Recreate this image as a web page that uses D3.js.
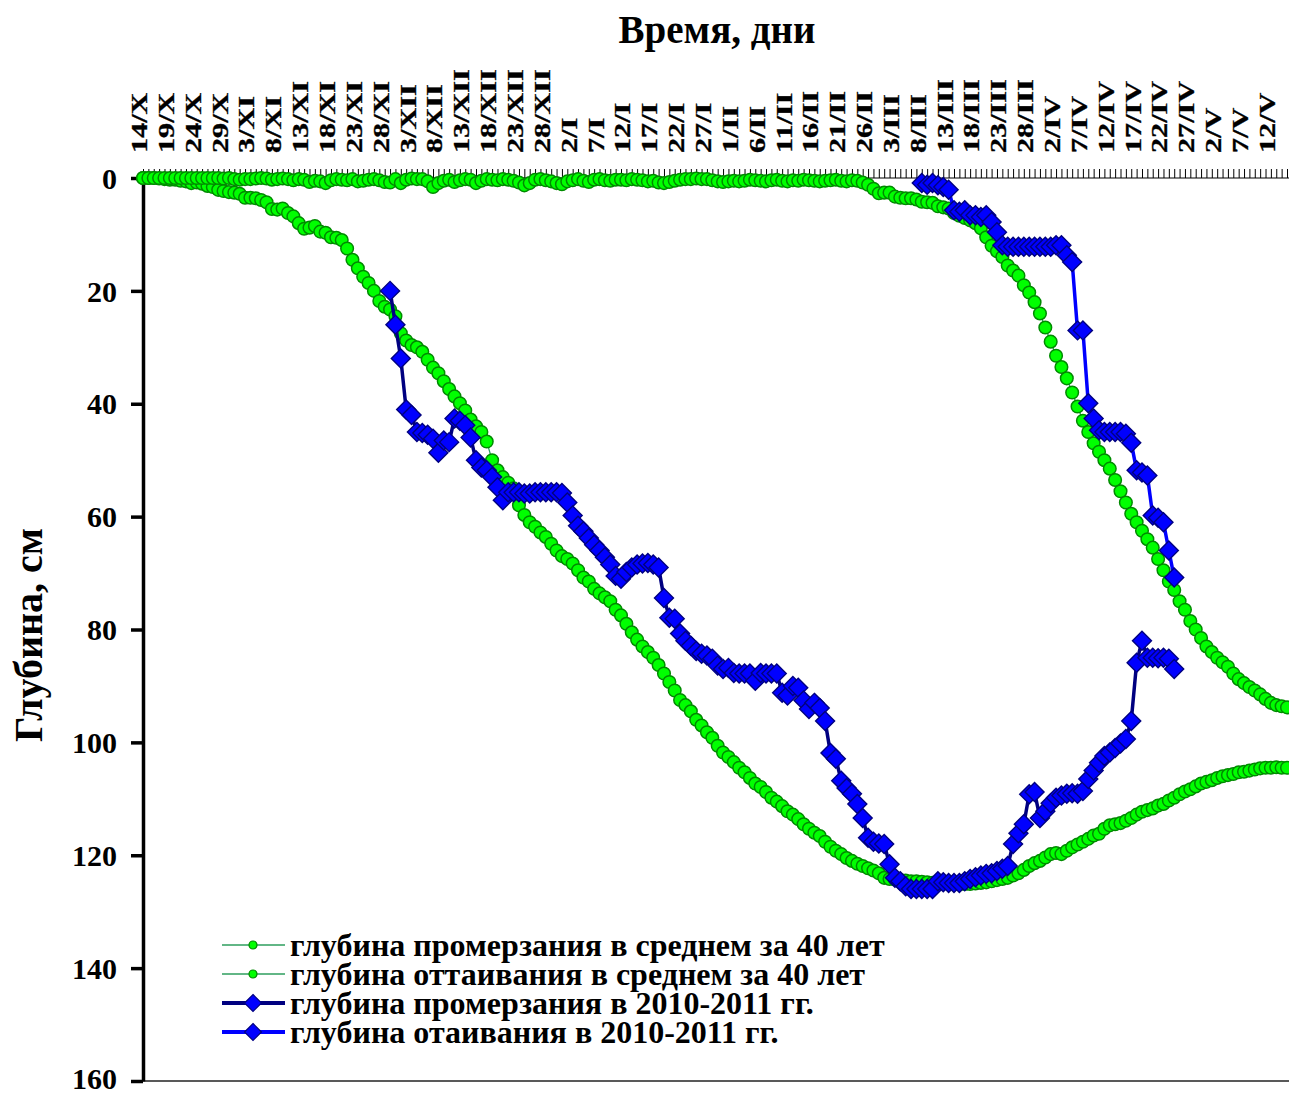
<!DOCTYPE html>
<html><head><meta charset="utf-8">
<script src="https://cdn.jsdelivr.net/npm/d3@7"></script>
<style>
body{margin:0;background:#fff;}
svg text{font-family:"Liberation Serif","Times New Roman",serif;font-weight:bold;fill:#000;}
</style>
</head><body>
<svg id="chart" width="1289" height="1095"></svg>
<script>
// ---------- DATA ----------
const tickLabels = ["14/X","19/X","24/X","29/X","3/XI","8/XI","13/XI","18/XI","23/XI","28/XI",
  "3/XII","8/XII","13/XII","18/XII","23/XII","28/XII","2/I","7/I","12/I","17/I","22/I","27/I",
  "1/II","6/II","11/II","16/II","21/II","26/II","3/III","8/III","13/III","18/III","23/III","28/III",
  "2/IV","7/IV","12/IV","17/IV","22/IV","27/IV","2/V","7/V","12/V"];
const labelEvery = 5;
const dayCount = 214; // 14/X .. 15/V, one category per day
const yTicks = [0,20,40,60,80,100,120,140,160];

// глубина промерзания в среднем за 40 лет (day 0..213)
const freezeAvg = [
  0,0,0,0.1,0.2,0.3,0.3,0.5,0.6,0.9,
  0.8,1.0,1.4,1.6,2.1,2.3,2.5,2.6,2.8,3.5,
  3.5,3.6,3.9,4.3,5.5,5.6,5.4,6.2,6.8,8.0,
  9.0,8.8,8.5,9.5,9.7,10.5,10.6,11.0,12.5,14.5,
  16.0,17.5,18.6,20.0,21.8,22.8,23.3,24.5,27.5,28.8,
  29.6,30.0,30.8,32.2,33.6,34.6,36.0,37.4,38.7,39.9,
  41.2,42.8,44.0,45.0,46.7,50.0,51.8,53.0,54.0,55.0,
  58.0,59.7,61.0,61.8,62.8,63.6,64.8,66.0,67.0,67.5,
  68.3,69.5,70.8,71.5,72.8,73.6,74.3,75.0,76.5,77.5,
  79.0,80.5,81.8,83.0,84.0,85.0,86.3,87.8,89.3,90.8,
  92.5,93.4,94.5,96.0,97.0,98.2,99.2,100.6,101.8,102.6,
  103.5,104.5,105.3,106.3,107.3,107.9,108.8,109.8,110.5,111.3,
  112.2,112.8,113.6,114.5,115.3,116.0,116.6,117.6,118.5,119.2,
  119.8,120.5,121.0,121.5,121.9,122.3,122.7,123.2,124.0,124.2,
  124.3,124.4,124.5,124.6,124.6,124.7,124.8,124.9,124.9,125.0,
  125.0,125.0,125.1,125.1,125.1,125.0,124.9,124.8,124.6,124.4,
  124.2,124.0,123.6,123.2,122.6,121.9,121.4,121.0,120.4,119.8,
  119.6,119.8,119.2,118.6,118.1,117.6,117.1,116.5,116.2,115.3,
  114.7,114.5,114.3,113.9,113.4,112.8,112.3,112.0,111.7,111.2,
  110.9,110.3,109.8,109.2,108.7,108.3,107.8,107.3,107.0,106.7,
  106.3,106.0,105.8,105.6,105.3,105.2,105.0,104.8,104.6,104.5,
  104.5,104.4,104.5,104.5
];

// глубина оттаивания в среднем за 40 лет (day 0..213)
const thawAvg = [
  0,0,0,0,0,0,0,0,0,0,
  0,0,0,0,0,0.1,0,0.2,0.3,0.2,
  0.2,0.1,0,0.1,0.3,0.2,0.1,0.2,0.4,0.2,
  0.3,0.7,0.5,0.6,0.9,0.4,0.2,0.3,0.4,0.2,
  0.6,0.5,0.3,0.2,0.4,0.7,0.8,0.2,0.9,0.3,
  0.1,0.2,0.2,0.6,1.6,0.9,0.5,0.3,0.7,0.4,
  0.2,0.3,0.9,0.5,0.2,0.3,0.4,0.2,0.3,0.5,
  0.8,1.3,0.9,0.3,0.2,0.4,0.6,0.9,1.1,0.6,
  0.4,0.2,0.5,0.7,0.3,0.2,0.4,0.5,0.3,0.3,
  0.4,0.2,0.3,0.4,0.6,0.5,0.8,0.9,0.7,0.5,
  0.3,0.2,0.2,0.1,0.2,0.2,0.4,0.6,0.7,0.6,
  0.5,0.6,0.5,0.3,0.4,0.5,0.6,0.4,0.3,0.5,
  0.6,0.4,0.5,0.3,0.4,0.5,0.6,0.5,0.4,0.3,
  0.5,0.6,0.4,0.5,0.8,1.2,1.9,2.7,2.6,2.6,
  3.3,3.5,3.6,3.6,3.8,4.2,4.3,4.4,5.0,5.2,
  5.4,6.2,6.7,7.1,7.5,8.0,8.9,10.5,12.0,13.0,
  14.0,15.5,16.4,17.3,19.0,20.3,22.0,24.0,26.5,29.0,
  31.5,33.5,35.5,38.0,40.5,43.0,45.0,47.0,48.5,50.0,
  51.5,53.5,55.5,57.5,59.5,61.0,62.5,64.0,65.5,67.5,
  69.5,71.5,73.0,75.0,76.5,78.5,80.0,81.5,83.0,84.0,
  85.0,85.8,86.6,87.8,88.8,89.5,90.2,90.8,91.5,92.3,
  93.0,93.4,93.6,93.8
];

// глубина промерзания в 2010-2011 гг. (from day 46 = 30/XI)
const freeze2010Start = 46;
const freeze2010 = [
  20.0,26.0,32.0,41.0,42.0,45.0,45.2,45.5,46.2,48.7,
  46.5,46.8,42.6,43.0,43.8,46.0,50.0,51.3,51.8,53.0,
  54.8,57.1,55.7,55.7,55.7,55.9,55.9,55.7,55.7,55.7,
  55.7,55.7,55.8,57.5,59.8,61.6,62.6,63.8,65.0,66.0,
  67.2,68.5,70.5,71.0,69.8,69.0,68.5,68.3,68.2,68.5,
  69.0,74.4,77.9,78.1,80.7,82.0,82.9,83.8,84.3,84.6,
  85.2,86.4,87.0,86.8,87.7,87.8,87.8,87.8,89.1,87.7,
  87.8,87.8,87.8,91.2,91.7,90.0,90.3,92.6,94.1,93.0,
  93.9,96.2,101.9,102.9,106.8,108.1,109.1,110.9,113.4,116.9,
  117.6,117.9,118.0,121.6,124.0,124.6,125.5,126.0,126.0,126.0,
  126.0,126.0,124.6,124.8,124.9,124.9,124.9,124.6,124.2,123.9,
  123.6,123.3,123.2,122.8,122.4,121.9,118.0,116.1,114.5,109.2,
  108.8,113.4,112.2,110.8,109.8,109.4,109.1,109.0,109.1,108.6,
  106.5,105.0,103.6,102.4,101.8,101.0,100.2,99.4,96.2,85.9,
  82.0,85.0,85.0,85.1,85.0,85.2,87.0
];

// глубина отаивания в 2010-2011 гг. (from day 145 = 8/III)
const thaw2010Start = 145;
const thaw2010 = [
  0.9,1.2,0.9,1.3,1.6,2.1,5.7,6.0,5.7,6.6,
  6.6,6.9,6.6,7.8,9.6,11.9,12.2,12.2,12.2,12.2,
  12.2,12.2,12.2,12.2,12.2,11.9,11.9,13.7,14.9,27.0,
  27.0,39.9,42.6,44.7,45.0,45.0,45.0,45.0,45.3,46.9,
  51.8,52.2,52.7,59.8,60.2,61.0,66.0,70.8
];

const seriesNames = [
  "глубина промерзания в среднем за 40 лет",
  "глубина оттаивания в среднем за 40 лет",
  "глубина промерзания в 2010-2011 гг.",
  "глубина отаивания в 2010-2011 гг."
];

// ---------- CHART ----------
const svg = d3.select("#chart");
const W = 1289, H = 1095;
const plot = {left:143, top:178, right:1289, bottom:1081};

const x = d3.scalePoint().domain(d3.range(dayCount)).range([plot.left, 1287]);
const y = d3.scaleLinear().domain([0,160]).range([plot.top, plot.bottom]);

const toPts = (arr, start) => arr.map((v,i)=>({d:start+i, v}));
const series = [
  {name:seriesNames[0], pts:toPts(freezeAvg,0), line:"#2E9E5E", lw:1.3, marker:"circle"},
  {name:seriesNames[1], pts:toPts(thawAvg,0), line:"#2E9E5E", lw:1.3, marker:"circle"},
  {name:seriesNames[2], pts:toPts(freeze2010,freeze2010Start), line:"#000080", lw:3.5, marker:"diamond"},
  {name:seriesNames[3], pts:toPts(thaw2010,thaw2010Start), line:"#0000FF", lw:3.5, marker:"diamond"}
];

// bottom frame line
svg.append("line").attr("x1",plot.left).attr("x2",W).attr("y1",plot.bottom).attr("y2",plot.bottom)
  .attr("stroke","#222").attr("stroke-width",1.5);

// top category axis (ticks every day)
const xAxis = d3.axisTop(x).tickValues(d3.range(dayCount)).tickSize(9).tickSizeOuter(0).tickFormat("");
const gx = svg.append("g").attr("transform",`translate(0,${plot.top})`).call(xAxis);
gx.select(".domain").attr("d",`M${plot.left},0H${W}`).attr("stroke","#000").attr("stroke-width",1.2);
gx.selectAll(".tick line").attr("stroke","#000").attr("stroke-width",1);

// rotated tick labels every 5 days
svg.append("g").selectAll("text").data(tickLabels).join("text")
  .attr("transform",(t,i)=>`translate(${x(i*labelEvery)},153) rotate(-90) scale(1.34,1)`)
  .attr("x",0).attr("y",4)
  .attr("text-anchor","start")
  .style("font-size","22.5px")
  .style("stroke","#000").style("stroke-width","0.3px")
  .text(t=>t);

// left value axis
const yAxis = d3.axisLeft(y).tickValues(yTicks).tickSize(12).tickSizeOuter(0).tickFormat(d3.format("d"));
const gy = svg.append("g").attr("transform",`translate(${plot.left},0)`).call(yAxis);
gy.select(".domain").attr("stroke","#000").attr("stroke-width",3.5);
gy.selectAll(".tick line").attr("stroke","#000").attr("stroke-width",3.5);
gy.selectAll(".tick text").attr("x",-26).attr("dy",d=>d===160?"0.24em":"0.34em")
  .style("font-size","30px").style("font-family","'Liberation Serif','Times New Roman',serif")
  .style("font-weight","bold").attr("fill","#000");

// titles
svg.append("text").attr("x",717).attr("y",43).attr("text-anchor","middle")
  .style("font-size","39px").text("Время, дни");
svg.append("text").attr("transform","translate(42,635) rotate(-90)").attr("text-anchor","middle")
  .style("font-size","40px").text("Глубина, см");

// series
const line = d3.line().x(p=>x(p.d)).y(p=>y(p.v));
const diamond = r => `M0,${-r}L${r},0L0,${r}L${-r},0Z`;

series.forEach(s=>{
  const g = svg.append("g");
  g.append("path").attr("d",line(s.pts)).attr("fill","none")
    .attr("stroke",s.line).attr("stroke-width",s.lw).attr("stroke-linejoin","round");
  if(s.marker==="circle"){
    g.selectAll("circle").data(s.pts).join("circle")
      .attr("cx",p=>x(p.d)).attr("cy",p=>y(p.v)).attr("r",6.3)
      .attr("fill","#00FF00").attr("stroke","#008A00").attr("stroke-width",1.5);
  } else {
    g.selectAll("path.m").data(s.pts).join("path").attr("class","m")
      .attr("transform",p=>`translate(${x(p.d)},${y(p.v)})`)
      .attr("d",diamond(9.5))
      .attr("fill","#0000FF").attr("stroke","#000080").attr("stroke-width",1.4);
  }
});

// legend
const legY = [945, 974, 1003, 1032];
const lg = svg.append("g");
series.forEach((s,i)=>{
  const gy2 = legY[i];
  lg.append("line").attr("x1",222).attr("x2",285).attr("y1",gy2).attr("y2",gy2)
    .attr("stroke",s.line).attr("stroke-width",s.marker==="circle"?1.5:4);
  if(s.marker==="circle"){
    lg.append("circle").attr("cx",253).attr("cy",gy2).attr("r",4)
      .attr("fill","#00FF00").attr("stroke","#008A00").attr("stroke-width",1.2);
  } else {
    lg.append("path").attr("transform",`translate(253,${gy2})`).attr("d",diamond(8.5))
      .attr("fill","#0000FF").attr("stroke","#000080").attr("stroke-width",1.2);
  }
  lg.append("text").attr("x",290).attr("y",gy2+11).style("font-size","32px").text(s.name);
});
</script>
</body></html>
